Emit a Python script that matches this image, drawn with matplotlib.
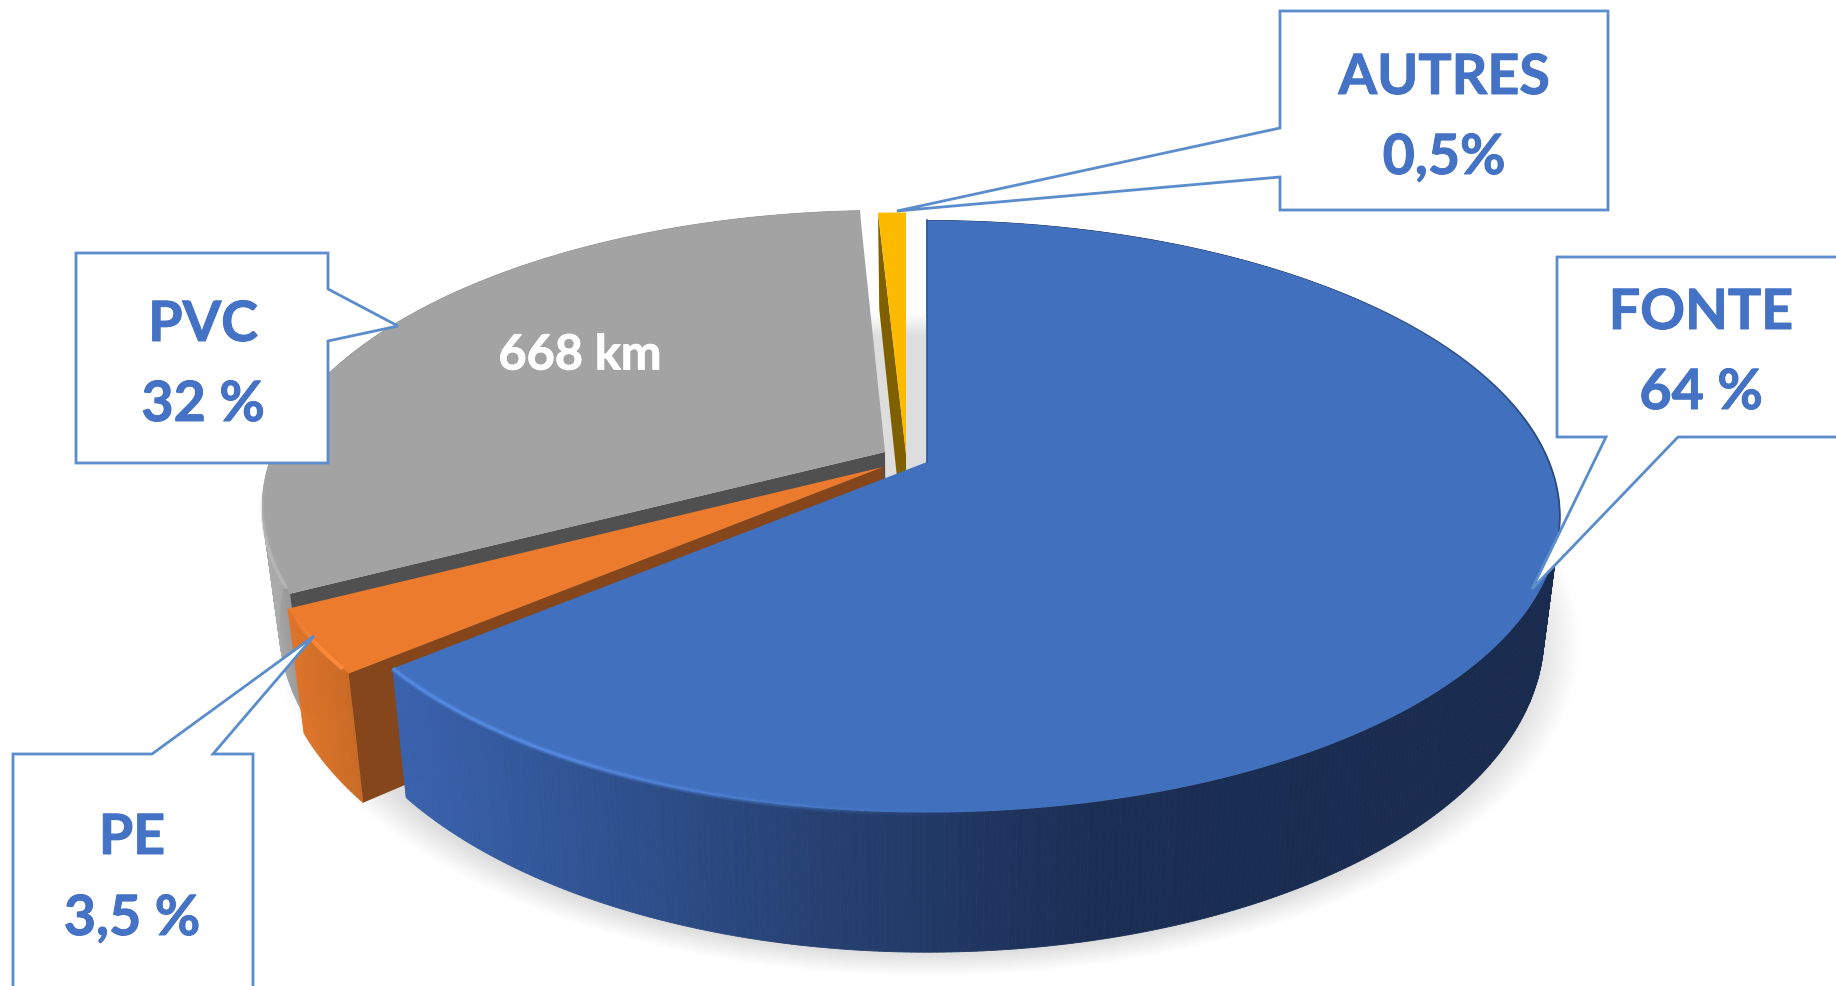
import numpy as np
import matplotlib
matplotlib.use("Agg")
import matplotlib.pyplot as plt
import matplotlib.patheffects as pe

# slice values, clockwise from the top of the pie
materials = ["FONTE", "PE", "PVC", "AUTRES"]
shares = [64, 3.5, 32, 0.5]
share_labels = ["64 %", "3,5 %", "32 %", "0,5%"]
length_note = "668 km"

top_colors = ["#4170bf", "#ec7b2e", "#a3a3a3", "#fdbb00"]
cut_colors = [None, "#84461a", "#505050", "#7f6000"]
apex_px = [(927, 463), (883, 468), (885, 453), (906, 455)]
# the drawn wedges do not close exactly on the shares: degrees added at start / end
pad_deg = [(0, 0), (0, 0), (0, -1.0), (-1.3, 0)]

# pie projection, in pixels
RX_RIGHT = 622
RX_LEFT = 612
RY = 286
PERSP = 0.184
DEPTH = 114
BOTTOM_SCALE = 0.975
CENTER_X = 927

TEXT_BLUE = "#4472c4"
LINE_BLUE = "#5b8ccc"


def project(theta_deg, apex):
    t = np.radians(theta_deg)
    u = np.sin(t)
    v = np.cos(t)
    s = 1 / (1 + PERSP * v)
    rx = np.where(u > 0, RX_RIGHT, RX_LEFT)
    return apex[0] + rx * u * s, apex[1] - RY * v * s, s


def lower(x, y, s):
    # same point on the underside of the pie
    return CENTER_X + (x - CENTER_X) * BOTTOM_SCALE, y + DEPTH * s


def side_color(i, x):
    if i == 0:
        xs = [400, 600, 800, 1100, 1560]
        rgb = [(0x3a, 0x62, 0xad), (0x2f, 0x52, 0x90), (0x27, 0x42, 0x74), (0x1b, 0x2e, 0x54), (0x19, 0x2b, 0x4e)]
    elif i == 1:
        xs = [283, 348]
        rgb = [(0xe0, 0x75, 0x2a), (0xc9, 0x6b, 0x26)]
    else:
        xs = [255, 300]
        rgb = [(0xb0, 0xb0, 0xb0), (0x90, 0x90, 0x90)]
    rgb = np.array(rgb) / 255
    return tuple(np.interp(x, xs, rgb[:, c]) for c in range(3))


def draw_slice(ax, i, start, end):
    apex = apex_px[i]
    thetas = np.linspace(start, end, max(int((end - start) * 2), 8))
    x, y, s = project(thetas, apex)
    xb, yb = lower(x, y, s)

    # outer wall, in thin strips so the colour can run along it
    if i < 3:
        for k in range(len(thetas) - 1):
            c = side_color(i, (x[k] + x[k + 1]) / 2)
            ax.fill([x[k], x[k + 1], xb[k + 1], xb[k]], [y[k], y[k + 1], yb[k + 1], yb[k]],
                    color=c, lw=0.6, zorder=3)

    # flat cut face
    if cut_colors[i] is not None:
        xo, yo, so = project(start, apex)
        xob, yob = lower(xo, yo, so)
        xab, yab = lower(apex[0], apex[1], 1.0)
        ax.fill([xo, apex[0], xab, xob], [yo, apex[1], yab, yob], color=cut_colors[i], lw=0, zorder=3)

    ax.fill(np.r_[apex[0], x], np.r_[apex[1], y], color=top_colors[i], lw=0, zorder=3)


def rim_light(ax, i, start, end, color, width, strength=1.0):
    thetas = np.linspace(start, end, 60)
    x, y, s = project(thetas, apex_px[i])
    fade = strength * np.minimum(1, np.linspace(1.6, 0, 59))
    for k in range(59):
        ax.plot(x[k:k + 2], y[k:k + 2], color=color, lw=width, alpha=fade[k], zorder=3,
                solid_capstyle="butt")


def bold_text(ax, x, y, s, color, size):
    t = ax.text(x, y, s, color=color, fontsize=size, fontweight="bold", family="Lato",
                ha="center", va="center", zorder=7)
    t.set_path_effects([pe.withStroke(linewidth=0.7, foreground=color)])


def callout(ax, pts, label, value, cx, y1, y2):
    xs, ys = zip(*pts)
    ax.fill(xs, ys, facecolor="white", edgecolor=LINE_BLUE, lw=2, zorder=6, joinstyle="miter")
    bold_text(ax, cx, y1, label, TEXT_BLUE, 40)
    bold_text(ax, cx, y2, value, TEXT_BLUE, 40)


fig = plt.figure(figsize=(18.36, 9.87), dpi=100)
ax = fig.add_axes([0, 0, 1, 1])

# soft shadow on the floor
gx, gy = np.meshgrid(np.arange(0, 1836, 2), np.arange(0, 987, 2))
r = np.sqrt(((gx - 927) / 652) ** 2 + ((gy - 645) / 332) ** 2)
shadow = np.zeros(gx.shape + (4,))
shadow[..., :3] = 0.45
shadow[..., 3] = 0.24 * np.clip((1.0 - r) / 0.07, 0, 1)
ax.imshow(shadow, extent=(0, 1836, 987, 0), interpolation="bilinear", zorder=1, aspect="auto")
ax.set_xlim(0, 1836)
ax.set_ylim(987, 0)
ax.axis("off")

# wedges from the shares, far ones first
edges = np.r_[0, np.cumsum(shares)] / np.sum(shares) * 360
for i in [3, 2, 1, 0]:
    draw_slice(ax, i, edges[i] + pad_deg[i][0], edges[i + 1] + pad_deg[i][1])
    if i == 1:
        rim_light(ax, 1, edges[1] + 1, edges[2] - 1, "#ff8c3c", 3)
    if i == 2:
        rim_light(ax, 2, edges[2] + 1, edges[2] + 22, "#bdbdbd", 2.5, 0.7)

rim_light(ax, 0, edges[1], edges[1] - 55, "#4c80d6", 4.5, 0.5)
rim_light(ax, 0, edges[1], edges[1] - 50, "#5a8fe6", 2.0, 0.8)
rim_light(ax, 0, 105, 45, "#2a4a80", 1.3)
ax.plot([927, 927], [221, 463], color="#2f5597", lw=1.2, zorder=3)

bold_text(ax, 580, 356, length_note, "white", 35)

callout(ax, [(1280, 12), (1608, 12), (1608, 211), (1280, 211), (1280, 178), (897, 212), (1280, 129)],
        materials[3], share_labels[3], 1444, 79, 159)
callout(ax, [(1557, 258), (1850, 258), (1850, 438), (1678, 438), (1532, 590), (1606, 438), (1557, 438)],
        materials[0], share_labels[0], 1701, 314, 394)
callout(ax, [(76, 254), (328, 254), (328, 290), (398, 327), (328, 342), (328, 464), (76, 464)],
        materials[2], share_labels[2], 203, 326, 406)
callout(ax, [(13, 755), (152, 755), (314, 637), (213, 755), (253, 755), (253, 1000), (13, 1000)],
        materials[1], share_labels[1], 132, 839, 920)

fig.savefig("out.png", dpi=100)
